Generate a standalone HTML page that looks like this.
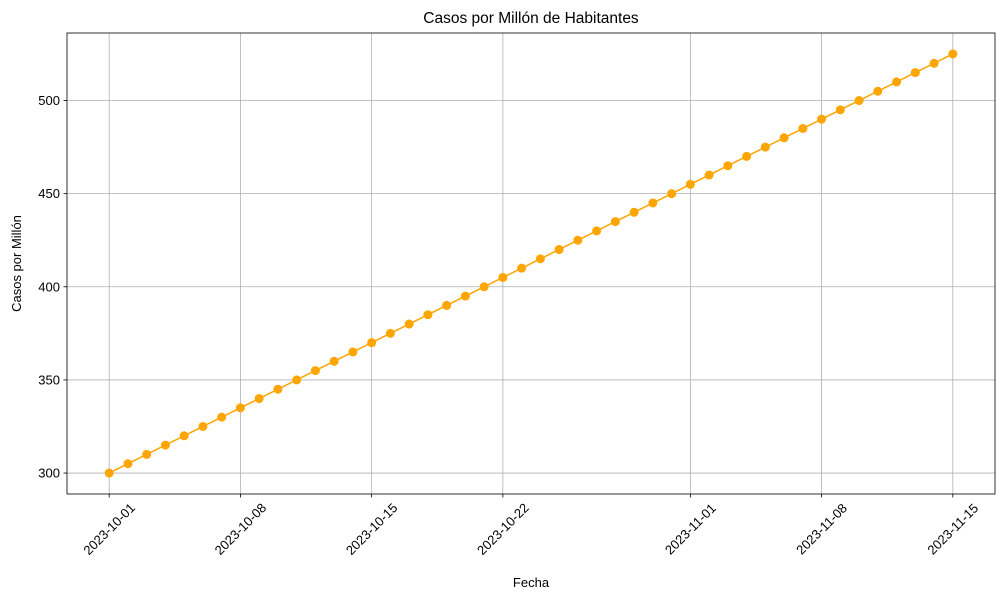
<!DOCTYPE html>
<html><head><meta charset="utf-8"><style>
body{margin:0;background:#fff;font-family:"Liberation Sans","DejaVu Sans",sans-serif;}
</style></head><body>
<svg id="chart" width="1006" height="600" xmlns="http://www.w3.org/2000/svg" font-family="Liberation Sans, DejaVu Sans, sans-serif"></svg>
<script>
const startDate = "2023-10-01";
const values = [300,305,310,315,320,325,330,335,340,345,350,355,360,365,370,375,380,385,390,395,400,405,410,415,420,425,430,435,440,445,450,455,460,465,470,475,480,485,490,495,500,505,510,515,520,525];
const xTickLabels = ["2023-10-01","2023-10-08","2023-10-15","2023-10-22","2023-11-01","2023-11-08","2023-11-15"];
const yTicks = [300,350,400,450,500];

const svg = document.getElementById('chart');
const NS = "http://www.w3.org/2000/svg";
const L=67, R=995, T=33, B=494;
const day = 86400000;
const t0 = Date.parse(startDate+"T00:00:00Z");
const nDays = values.length-1;
const xPad = nDays*0.05;
function xs(d){ return L + (d + xPad)/(nDays+2*xPad)*(R-L); }
const ymin = Math.min(...values), ymax = Math.max(...values);
const yPad = (ymax-ymin)*0.05;
function ys(v){ return B - (v-(ymin-yPad))/((ymax-ymin)+2*yPad)*(B-T); }
function el(tag, attrs, parent){ const e=document.createElementNS(NS,tag); for(const k in attrs) e.setAttribute(k,attrs[k]); (parent||svg).appendChild(e); return e; }

xTickLabels.forEach(lbl=>{
  const d=(Date.parse(lbl+"T00:00:00Z")-t0)/day;
  const x=xs(d);
  const g=el('line',{x1:x,x2:x,y1:T,y2:B,stroke:'#b0b0b0','stroke-width':0.8});
  
  
  el('line',{x1:x,x2:x,y1:B,y2:B+3.5,stroke:'#000','stroke-width':0.8});
  const cy=B+35;
  const t=el('text',{x:x,y:cy+4.5,'font-size':13,'text-anchor':'middle',transform:`rotate(-45 ${x} ${cy})`});
  t.textContent=lbl;
  
  
});
yTicks.forEach(v=>{
  const y=ys(v);
  const g=el('line',{x1:L,x2:R,y1:y,y2:y,stroke:'#b0b0b0','stroke-width':0.8});
  
  
  el('line',{x1:L-3.5,x2:L,y1:y,y2:y,stroke:'#000','stroke-width':0.8});
  const t=el('text',{x:L-7,y:y+4.5,'font-size':13,'text-anchor':'end'});
  t.textContent=v;
  
  
});
const pts=values.map((v,i)=>xs(i)+','+ys(v)).join(' ');
const pl=el('polyline',{points:pts,fill:'none',stroke:'#ffa500','stroke-width':1.5});


values.forEach((v,i)=>{
  const c=el('circle',{cx:xs(i),cy:ys(v),r:4.5,fill:'#ffa500'});
  
  
});
const fr=el('rect',{x:L,y:T,width:R-L,height:B-T,fill:'none',stroke:'#000','stroke-width':0.8});


let t=el('text',{x:(L+R)/2,y:23,'font-size':15.5,'text-anchor':'middle'});
t.textContent='Casos por Millón de Habitantes';


t=el('text',{x:(L+R)/2,y:587,'font-size':13,'text-anchor':'middle'});
t.textContent='Fecha';


t=el('text',{x:21,y:(T+B)/2,'font-size':13,'text-anchor':'middle',transform:`rotate(-90 21 ${(T+B)/2})`});
t.textContent='Casos por Millón';


</script>
</body></html>
